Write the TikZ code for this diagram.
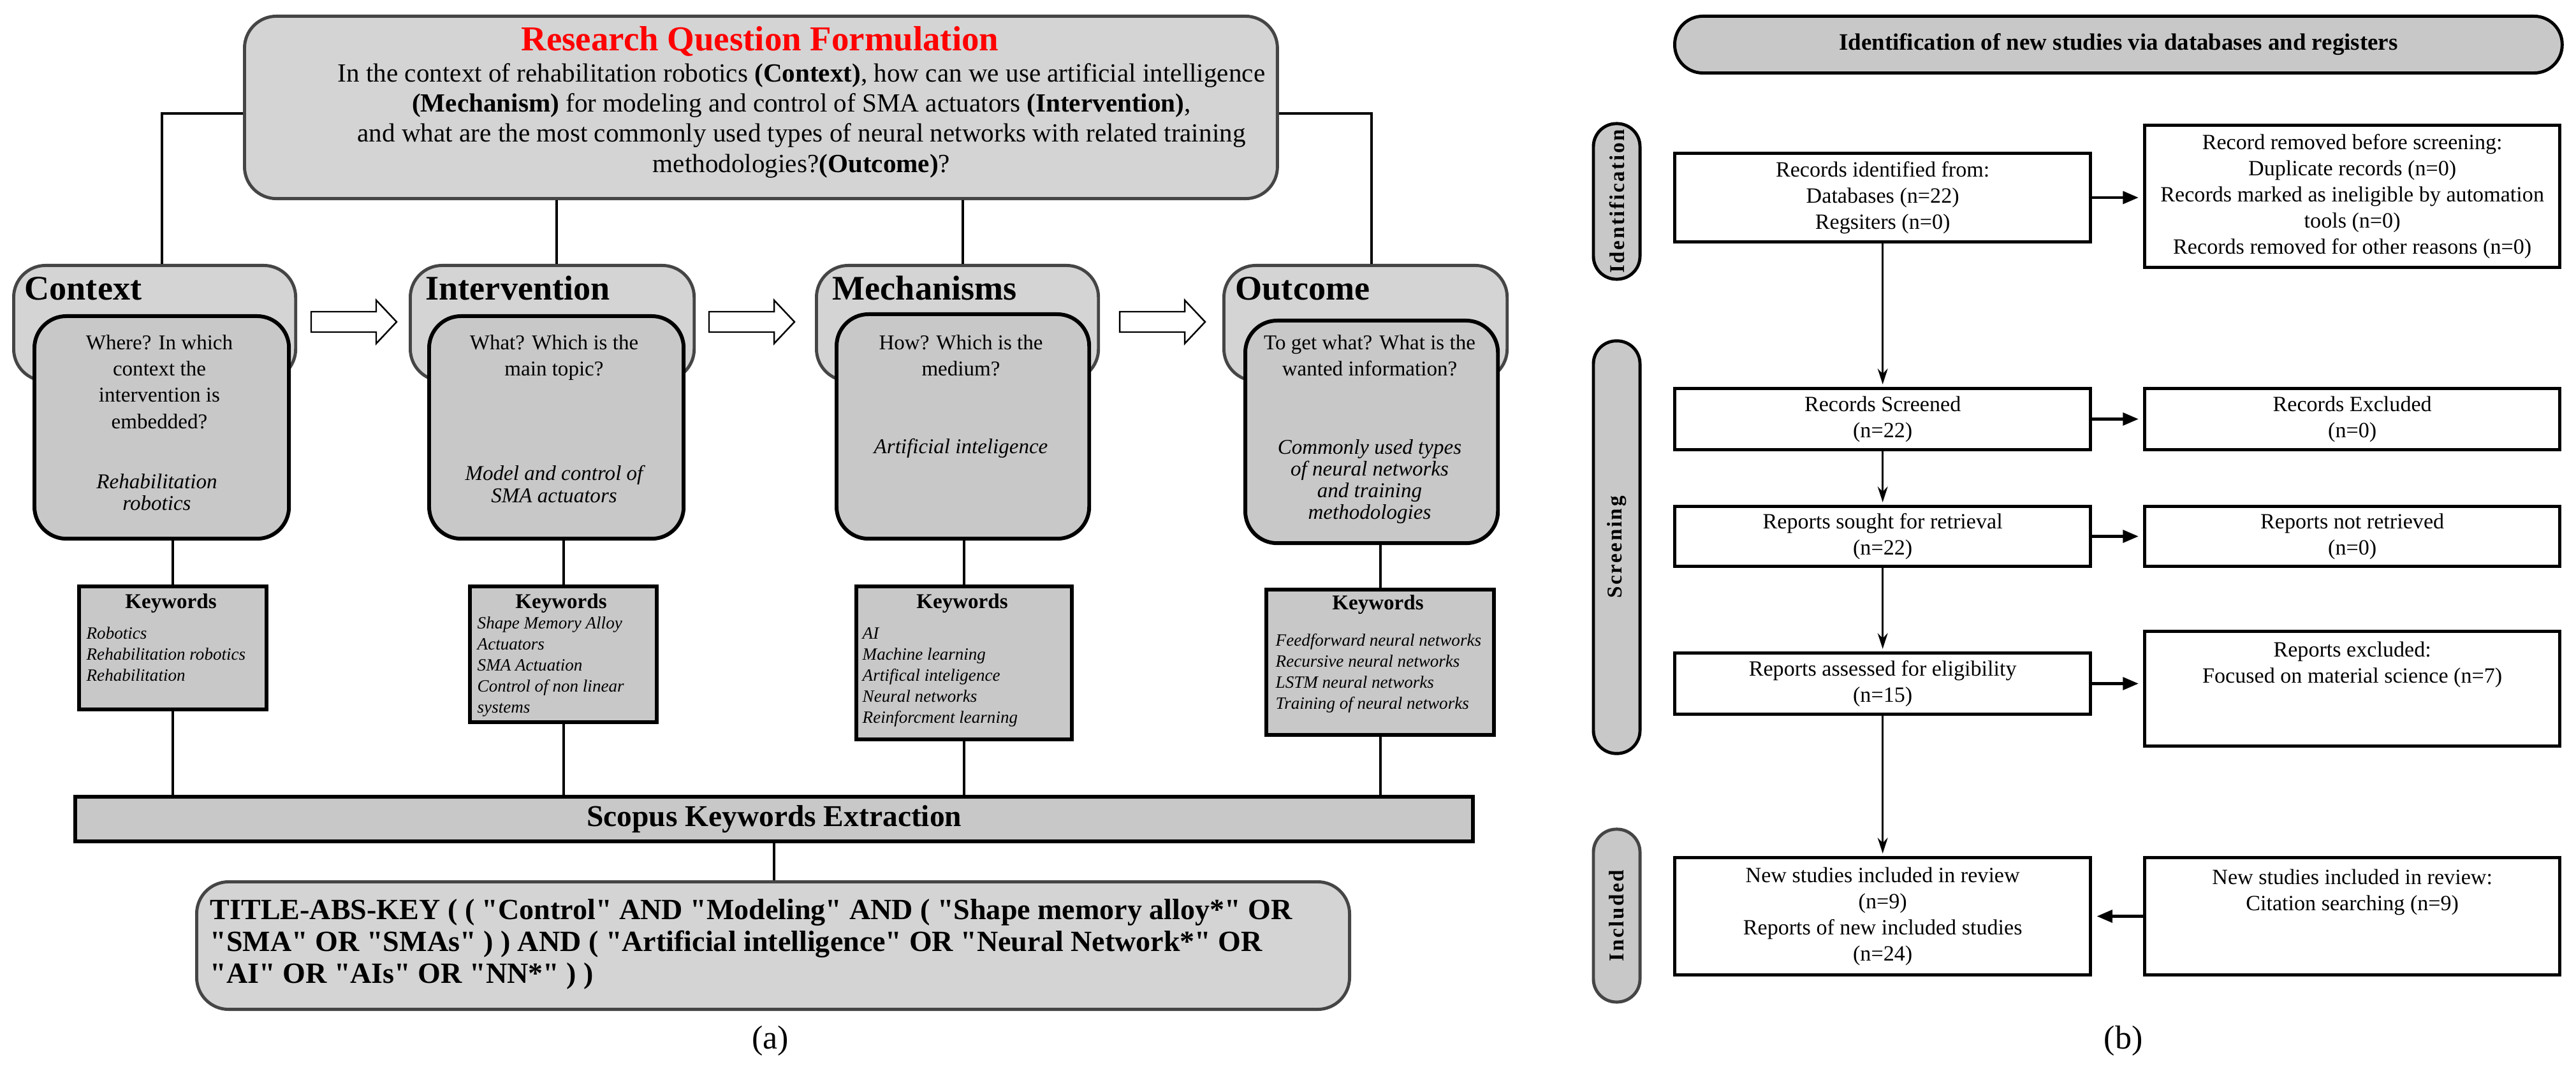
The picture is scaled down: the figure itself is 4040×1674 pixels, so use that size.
\documentclass[tikz,border=0pt]{standalone}
\usepackage{fontspec}
\setmainfont{Liberation Serif}
\newfontfamily\pillfont[LetterSpace=8]{Liberation Serif}
\newfontfamily\queryfont{Liberation Serif}
\usetikzlibrary{arrows.meta}
\definecolor{boxgray}{gray}{0.83}
\definecolor{fillgray}{gray}{0.785}
\definecolor{edgegray}{gray}{0.27}
\begin{document}
\begin{tikzpicture}[x=0.01cm, y=-0.01cm,
	conn/.style={line width=1.14pt},
	questionbox/.style={draw=edgegray, fill=boxgray, line width=1.4pt, rounded corners=0.5cm, anchor=north west, inner sep=0pt},
	catbox/.style={draw=edgegray, fill=boxgray, line width=1.4pt, rounded corners=0.5cm, anchor=north west, minimum height=1.81cm, inner sep=0pt},
	innerbox/.style={draw=black, fill=fillgray, line width=1.7pt, rounded corners=0.5cm, anchor=north west, inner sep=0pt},
	kwbox/.style={draw=black, fill=fillgray, line width=1.7pt, anchor=north west, inner sep=0pt},
	cattitle/.style={anchor=base west, inner sep=0pt, font=\fontsize{15.4}{18}\selectfont\bfseries},
	asktext/.style={anchor=north, inner sep=0pt, align=center, font=\fontsize{9.4}{11.7}\selectfont},
	answertext/.style={anchor=north, inner sep=0pt, align=center, font=\fontsize{9.4}{9.7}\selectfont\itshape},
	kwhead/.style={anchor=base, inner sep=0pt, font=\fontsize{9.4}{11}\selectfont\bfseries},
	kwlist/.style={anchor=north west, inner sep=0pt, align=left, font=\fontsize{7.7}{9.4}\selectfont\itshape},
	hollowarrow/.style={draw=black, fill=white, line width=0.7pt},
	flowbox/.style={draw=black, line width=1.4pt, anchor=north west, minimum width=6.52cm, align=center, inner sep=0pt, font=\fontsize{9.7}{11.7}\selectfont},
	sidepill/.style={draw=black, fill=fillgray, line width=1.4pt, rounded corners=0.36cm, minimum height=0.73cm, rotate=90, inner sep=0pt, font=\pillfont\fontsize{9.4}{11}\selectfont\bfseries},
	vflow/.style={line width=0.85pt, -{Stealth[length=7pt,width=4.5pt]}, shorten >=0.04cm},
	hflow/.style={line width=1.4pt, -{Triangle[length=7pt,width=5.5pt]}, shorten >=0.07cm},
	caption/.style={anchor=base, inner sep=0pt, font=\fontsize{14.8}{16}\selectfont}]
	\useasboundingbox (0,0) rectangle (4040,1674);
	
	% (a) research question
	\node[questionbox, minimum width=16.19cm, minimum height=2.86cm] (rq) at (381,23) {};
	\node[anchor=base, inner sep=0pt, text=red, font=\fontsize{15.6}{18}\selectfont\bfseries] (rqtitle) at (1192,80) {Research Question Formulation};
	\node[anchor=north, inner sep=0pt, align=center, font=\fontsize{11.7}{13.4}\selectfont] (rqtext) at (1257,99) {In the context of rehabilitation robotics \textbf{(Context)}, how can we use artificial intelligence\\ \textbf{(Mechanism)} for modeling and control of SMA actuators \textbf{(Intervention)},\\ and what are the most commonly used types of neural networks with related training\\ methodologies?\textbf{(Outcome)}?};
	
	\node[catbox, minimum width=4.42cm] (ctx) at (19,414) {};
	\node[catbox, minimum width=4.45cm] (int) at (641,414) {};
	\node[catbox, minimum width=4.42cm] (mech) at (1278,414) {};
	\node[catbox, minimum width=4.44cm] (outc) at (1917,414) {};
	
	\node[cattitle] (ctxtitle) at (38,471) {Context};
	\node[cattitle] (inttitle) at (667,471) {Intervention};
	\node[cattitle] (mechtitle) at (1305,471) {Mechanisms};
	\node[cattitle] (outtitle) at (1937,471) {Outcome};
	
	\node[innerbox, minimum width=3.99cm, minimum height=3.49cm] (ctxin) at (51,493) {};
	\node[innerbox, minimum width=3.99cm, minimum height=3.49cm] (intin) at (670,493) {};
	\node[innerbox, minimum width=3.96cm, minimum height=3.52cm] (mechin) at (1309,490) {};
	\node[innerbox, minimum width=3.96cm, minimum height=3.49cm] (outin) at (1950,500) {};
	
	\node[asktext] (ctxask) at (250,525) {Where? In which\\context the\\intervention is\\embedded?};
	\node[answertext] (ctxanswer) at (246,743) {Rehabilitation\\robotics};
	\node[asktext] (intask) at (869,525) {What? Which is the\\main topic?};
	\node[answertext] (intanswer) at (869,730) {Model and control of\\SMA actuators};
	\node[asktext] (mechask) at (1507,525) {How? Which is the\\medium?};
	\node[answertext] (mechanswer) at (1507,688) {Artificial inteligence};
	\node[asktext] (outask) at (2148,525) {To get what? What is the\\wanted information?};
	\node[answertext] (outanswer) at (2148,689) {Commonly used types\\of neural networks\\and training\\methodologies};
	
	\draw[hollowarrow] (488,489) -- (590,489) -- (590,471) -- (622,505) -- (590,539) -- (590,521) -- (488,521) -- cycle;
	\draw[hollowarrow] (1112,489) -- (1214,489) -- (1214,471) -- (1246,505) -- (1214,539) -- (1214,521) -- (1112,521) -- cycle;
	\draw[hollowarrow] (1756,489) -- (1858,489) -- (1858,471) -- (1890,505) -- (1858,539) -- (1858,521) -- (1756,521) -- cycle;
	
	% keywords
	\node[kwbox, minimum width=2.94cm, minimum height=1.93cm] (kwctx) at (121,917) {};
	\node[kwhead] (kwctxhead) at (268,955) {Keywords};
	\node[kwlist] (kwctxlist) at (135,983) {Robotics\\Rehabilitation robotics\\Rehabilitation};
	
	\node[kwbox, minimum width=2.93cm, minimum height=2.13cm] (kwint) at (734,917) {};
	\node[kwhead] (kwinthead) at (880,955) {Keywords};
	\node[kwlist] (kwintlist) at (748,967) {Shape Memory Alloy\\Actuators\\SMA Actuation\\Control of non linear\\systems};
	
	\node[kwbox, minimum width=3.38cm, minimum height=2.40cm] (kwmech) at (1340,917) {};
	\node[kwhead] (kwmechhead) at (1509,955) {Keywords};
	\node[kwlist] (kwmechlist) at (1352,984) {AI\\Machine learning\\Artifical inteligence\\Neural networks\\Reinforcment learning};
	
	\node[kwbox, minimum width=3.57cm, minimum height=2.28cm] (kwout) at (1983,922) {};
	\node[kwhead] (kwouthead) at (2161,957) {Keywords};
	\node[kwlist] (kwoutlist) at (2000,994) {Feedforward neural networks\\Recursive neural networks\\LSTM neural networks\\Training of neural networks};
	
	\node[kwbox, minimum width=21.91cm, minimum height=0.70cm, font=\fontsize{13.5}{15}\selectfont\bfseries] (scopus) at (115,1247) {Scopus Keywords Extraction};
	
	\node[questionbox, minimum width=18.07cm, minimum height=2.0cm] (query) at (306,1381) {};
	\node[anchor=north west, inner sep=0pt, align=left, font=\queryfont\fontsize{13.1}{14.2}\selectfont\bfseries] (querytext) at (329,1410) {TITLE-ABS-KEY ( ( "Control" AND "Modeling" AND ( "Shape memory alloy*" OR\\ "SMA" OR "SMAs" ) ) AND ( "Artificial intelligence" OR "Neural Network*" OR\\ "AI" OR "AIs" OR "NN*" ) )};
	
	\draw[conn] ([yshift=-0.09cm]rq.west) -| (ctxin.north |- ctx.north);
	\draw[conn] (rq.south -| intin.north) -- (intin.north |- int.north);
	\draw[conn] (rq.south -| mechin.north) -- (mechin.north |- mech.north);
	\draw[conn] ([yshift=-0.09cm]rq.east) -| (outin.north |- outc.north);
	
	\draw[conn] (kwctx.north |- ctxin.south) -- (kwctx.north);
	\draw[conn] (kwint.north |- intin.south) -- (kwint.north);
	\draw[conn] (kwmech.north |- mechin.south) -- (kwmech.north);
	\draw[conn] (kwout.north |- outin.south) -- (kwout.north);
	\draw[conn] (kwctx.south) -- (kwctx.south |- scopus.north);
	\draw[conn] (kwint.south) -- (kwint.south |- scopus.north);
	\draw[conn] (kwmech.south) -- (kwmech.south |- scopus.north);
	\draw[conn] (kwout.south) -- (kwout.south |- scopus.north);
	\draw[conn] (scopus.south) -- (scopus.south |- query.north);
	
	\node[caption] (capa) at (1208,1645) {(a)};
	
	% (b) flow of the review
	\node[draw=black, fill=fillgray, line width=1.4pt, rounded corners=0.44cm, anchor=north west, minimum width=13.91cm, minimum height=0.89cm, inner sep=0pt, font=\fontsize{10.5}{12}\selectfont\bfseries] (header) at (2624,23) {Identification of new studies via databases and registers};
	
	\node[sidepill, minimum width=2.44cm] (idpill) at (2535.5,316) {Identification};
	\node[sidepill, minimum width=6.47cm] (scrpill) at (2535.5,858.5) {Screening};
	\node[sidepill, draw=edgegray, minimum width=2.71cm] (incpill) at (2535.5,1436.5) {Included};
	
	\node[flowbox, minimum height=1.39cm] (ident) at (2624,238) {Records identified from:\\Databases (n=22)\\Regsiters (n=0)};
	\node[flowbox, minimum width=6.51cm, minimum height=2.23cm] (removed) at (3361,194) {Record removed before screening:\\Duplicate records (n=0)\\Records marked as ineligible by automation\\tools (n=0)\\Records removed for other reasons (n=0)};
	\node[flowbox, minimum height=0.96cm] (screened) at (2624,607) {Records Screened\\(n=22)};
	\node[flowbox, minimum width=6.51cm, minimum height=0.96cm] (excluded) at (3361,607) {Records Excluded\\(n=0)};
	\node[flowbox, minimum height=0.94cm] (sought) at (2624,792) {Reports sought for retrieval\\(n=22)};
	\node[flowbox, minimum width=6.51cm, minimum height=0.94cm] (notretr) at (3361,792) {Reports not retrieved\\(n=0)};
	\node[flowbox, minimum height=0.96cm] (assessed) at (2624,1022) {Reports assessed for eligibility\\(n=15)};
	\node[flowbox, minimum width=6.51cm, minimum height=1.80cm] (repexcl) at (3361,988) {Reports excluded:\\Focused on material science (n=7)\\~\\~};
	\node[flowbox, minimum height=1.84cm] (newstud) at (2624,1343) {New studies included in review\\(n=9)\\Reports of new included studies\\(n=24)};
	\node[flowbox, minimum width=6.51cm, minimum height=1.84cm] (citation) at (3361,1343) {New studies included in review:\\Citation searching (n=9)\\~\\~};
	
	\draw[vflow] (ident) -- (screened);
	\draw[vflow] (screened) -- (sought);
	\draw[vflow] (sought) -- (assessed);
	\draw[vflow] (assessed) -- (newstud);
	
	\draw[hflow] (ident.east) -- (ident.east -| removed.west);
	\draw[hflow] (screened.east) -- (screened.east -| excluded.west);
	\draw[hflow] (sought.east) -- (sought.east -| notretr.west);
	\draw[hflow] (assessed.east) -- (assessed.east -| repexcl.west);
	\draw[hflow] (citation.west) -- (citation.west -| newstud.east);
	
	\node[caption] (capb) at (3330,1645) {(b)};
\end{tikzpicture}
\end{document}
